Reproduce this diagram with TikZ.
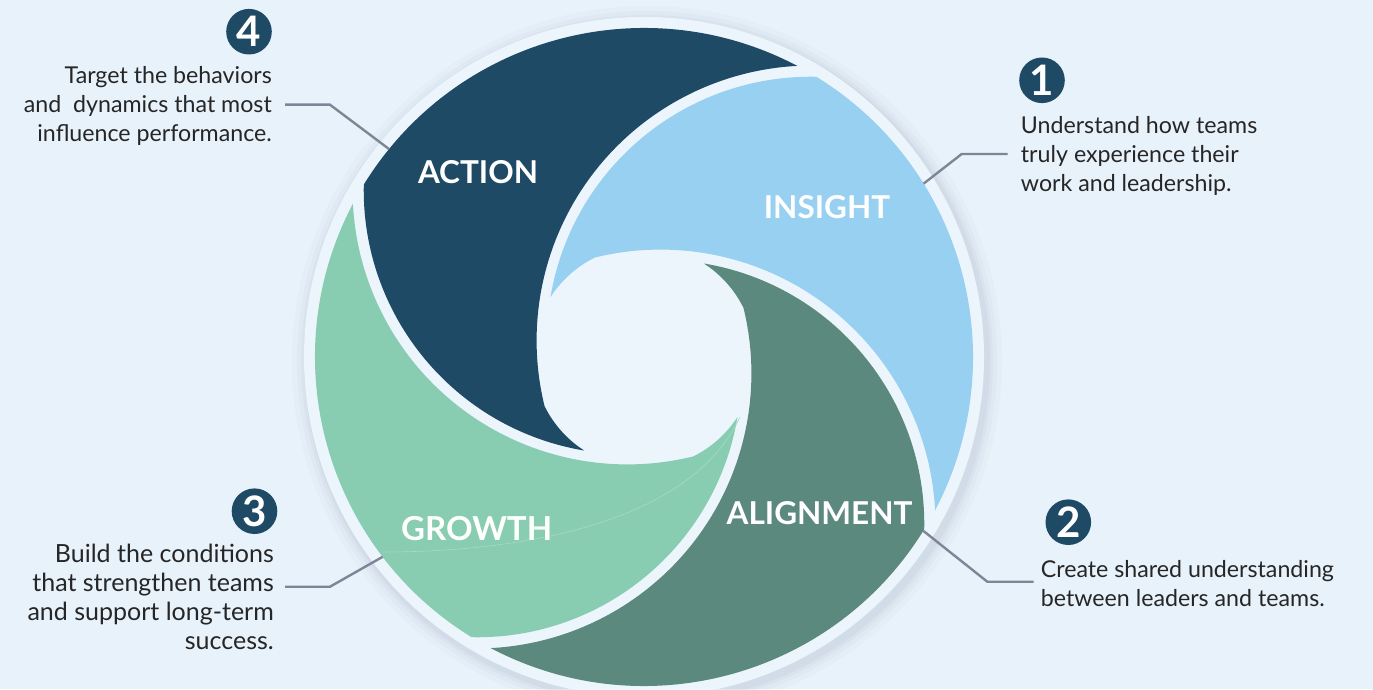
\documentclass[tikz,border=0pt]{standalone}
\usepackage{fontspec}
\setmainfont{Lato}
\usepackage{tikz}
\usetikzlibrary{calc}
\definecolor{bgblue}{HTML}{E8F2FB}
\definecolor{ringblue}{HTML}{EDF5FC}
\definecolor{shadowgray}{HTML}{8E9DAE}
\definecolor{navy}{HTML}{1F4A65}
\definecolor{sky}{HTML}{97D0F1}
\definecolor{sage}{HTML}{5C897E}
\definecolor{mint}{HTML}{88CDB2}
\definecolor{leadgray}{HTML}{7D8597}
\definecolor{txtgray}{HTML}{262626}

\begin{document}
\begin{tikzpicture}[x=1pt,y=1pt,
 num/.style={circle,fill=navy,text=white,minimum size=45.6pt,inner sep=0pt,font=\fontsize{42}{42}\selectfont\bfseries},
 desc/.style={text=txtgray,inner sep=0pt,font=\fontsize{23.2}{29}\selectfont},
 seglabel/.style={text=white,inner sep=0pt,font=\fontsize{31.5}{31.5}\selectfont\bfseries},
 lead/.style={leadgray,line width=2.4pt},
 seam/.style={mint!75!white,line width=0.6pt},
 piece/.style={shift={(644,332)},rotate=#1}]
\fill[bgblue] (0,0) rectangle (1373,689);
\useasboundingbox (0,0) rectangle (1373,689);
\coordinate (c) at (644,332);
\foreach \r/\o in {355/0.04,350/0.05,346/0.07,343/0.09}
  \fill[shadowgray,opacity=\o] ([shift={(3,-4)}]c) circle (\r);
\fill[ringblue] (c) circle (340);
\foreach \a/\col in {0/navy,-90/sky,-180/sage,90/mint}
  \fill[\col,piece=\a] (62.2:329) arc[start angle=62.2,end angle=148.4,radius=329]
    arc[start angle=178.8,end angle=260.5,radius=264]
    arc[start angle=237.3,end angle=206.2,radius=111]
    arc[start angle=193.8,end angle=92.9,radius=275] -- cycle;
\draw[seam] (740,272) .. controls (690,165) and (520,137) .. (383,137);
\node[seglabel] (action) at (478,516.5) {ACTION};
\node[seglabel] (insight) at (827,481.5) {INSIGHT};
\node[seglabel] (alignment) at (819.5,176) {ALIGNMENT};
\node[seglabel,font=\fontsize{33}{33}\selectfont\bfseries] (growth) at (476.7,160.3) {GROWTH};
\foreach \i/\x/\y in {1/1042/608.7,2/1068.3/166.8,3/254.5/177.8,4/249/657.3}
  \node[num] (n\i) at (\x,\y) {\i};
\node[desc,align=left,anchor=west] (t1) at (1020.7,533) {Understand how teams\\truly experience their\\work and leadership.};
\node[desc,align=left,anchor=west] (t2) at (1040.7,105.8) {Create shared understanding\\between leaders and teams.};
\node[desc,align=right,anchor=east,font=\fontsize{25}{29.2}\selectfont] (t3) at (274,92) {Build the conditions\\that strengthen teams\\and support long-term\\success.};
\node[desc,align=right,anchor=east] (t4) at (272,583.5) {Target the behaviors\\and~~dynamics that most\\influence performance.};
\coordinate (e1) at (961.7,535);
\coordinate (e2) at (987.3,107.3);
\coordinate (e3) at (330,102.3);
\coordinate (e4) at (330,584.3);
\coordinate (p1) at ($(c)+(31.8:329)$);
\coordinate (p2) at ($(c)+(-31.9:329)$);
\coordinate (p3) at ($(c)+(217.4:329)$);
\coordinate (p4) at ($(c)+(140.8:329)$);
\draw[lead] ($(t1.west |- e1)+(-13,0)$) -- (e1) -- (p1);
\draw[lead] ($(t2.west |- e2)+(-7,0)$) -- (e2) -- (p2);
\draw[lead] ($(t3.east |- e3)+(11,0)$) -- (e3) -- (p3);
\draw[lead] ($(t4.east |- e4)+(13,0)$) -- (e4) -- (p4);
\end{tikzpicture}
\end{document}
